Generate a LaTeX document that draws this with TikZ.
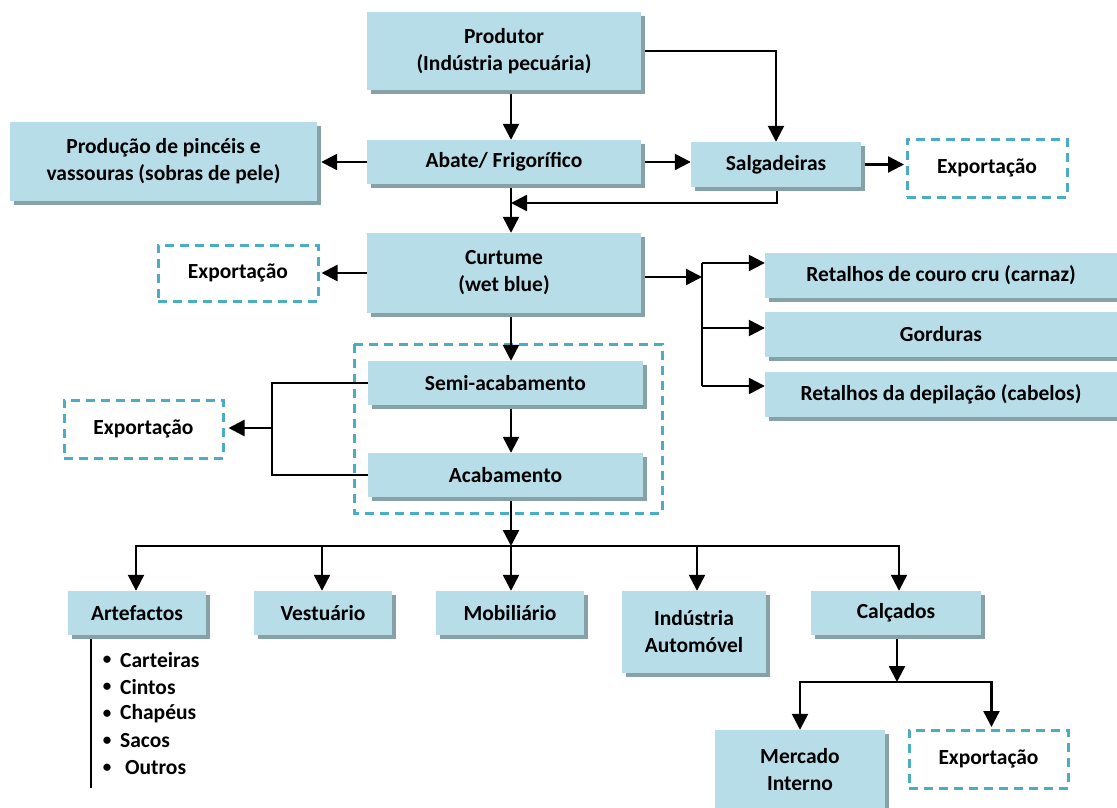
\documentclass[tikz,border=0pt]{standalone}
\usepackage{fontspec}
\setmainfont{Carlito}
\usetikzlibrary{arrows.meta,shadows}
\definecolor{boxfill}{HTML}{B7DDE8}
\definecolor{shadowcol}{HTML}{86A2A7}
\definecolor{dashcol}{HTML}{4BACC6}
\pgfdeclarelayer{bg}
\pgfsetlayers{bg,main}
\tikzset{
  lbl/.style={font=\fontsize{21.5}{27}\selectfont\bfseries, align=center},
  box/.style={lbl, fill=boxfill, inner sep=0pt,
    general shadow={fill=shadowcol, shadow xshift=4pt, shadow yshift=-4pt}},
  dbox/.style={lbl, draw=dashcol, line width=3pt, dash pattern=on 9pt off 6pt, fill=white, inner sep=0pt},
  grp/.style={draw=dashcol, line width=3pt, dash pattern=on 9pt off 6pt},
  conn/.style={line width=2.4pt, black},
  arr/.style={conn, -{Triangle[length=16pt,width=16pt]}},
  itm/.style={font=\fontsize{21.5}{27}\selectfont\bfseries, inner sep=0pt},
  bul/.style={font=\fontsize{17}{20}\selectfont\bfseries, inner sep=0pt},
}
\begin{document}
\begin{tikzpicture}[x=1pt,y=-1pt]
\useasboundingbox (0,0) rectangle (1117,808);

% boxes
\node[box, minimum width=274, minimum height=78] (prod) at (504,51) {Produtor\\(Indústria pecuária)};
\node[box, minimum width=274, minimum height=44] (abate) at (504,162) {Abate/ Frigorífico};
\node[box, minimum width=307, minimum height=79] (pinc) at (163.5,161.5) {Produção de pincéis e\\vassouras (sobras de pele)};
\node[box, minimum width=170, minimum height=45] (salg) at (776,164.5) {Salgadeiras};
\node[dbox, minimum width=160, minimum height=58] (exp1) at (987,168) {Exportação};
\node[box, minimum width=274, minimum height=80] (curt) at (504,273) {Curtume\\(wet blue)};
\node[dbox, minimum width=160, minimum height=56] (exp2) at (238,273) {Exportação};
\node[box, minimum width=352, minimum height=45] (ret1) at (941,275.5) {Retalhos de couro cru (carnaz)};
\node[box, minimum width=352, minimum height=45] (gord) at (941,334.5) {Gorduras};
\node[box, minimum width=352, minimum height=45] (ret2) at (941,394.5) {Retalhos da depilação (cabelos)};
\node[box, minimum width=275, minimum height=44] (semi) at (505.5,383) {Semi-acabamento};
\node[box, minimum width=275, minimum height=44] (acab) at (505.5,475) {Acabamento};
\node[dbox, minimum width=159, minimum height=58] (exp3) at (143.5,429) {Exportação};
\node[box, minimum width=138, minimum height=44] (art) at (137,613) {Artefactos};
\node[box, minimum width=138, minimum height=44] (vest) at (323,613) {Vestuário};
\node[box, minimum width=148, minimum height=44] (mob) at (510,613) {Mobiliário};
\node[box, minimum width=144, minimum height=82] (auto) at (694,632) {Indústria\\Automóvel};
\node[box, minimum width=170, minimum height=44] (calc) at (896,613) {Calçados};
\node[box, minimum width=170, minimum height=80] (merc) at (800,770) {Mercado\\Interno};
\node[dbox, minimum width=159, minimum height=58] (exp4) at (988.5,759) {Exportação};

% list under Artefactos
\foreach \n/\t/\yy in {i1/Carteiras/660, i2/Cintos/687, i3/Chapéus/714, i4/Sacos/741, i5/{\ Outros}/768}{
  \node[bul] (b\n) at (107,\yy) {•};
  \node[itm, anchor=west] (\n) at (120,\yy) {\t};
}

% helper coordinates
\coordinate (colx) at (511,0);
\coordinate (j1) at (511,203);
\coordinate (b1) at (702,277);
\coordinate (b2) at (702,263);
\coordinate (b3) at (702,328);
\coordinate (b4) at (702,386);
\coordinate (kx) at (272,0);
\coordinate (k2) at (272,428);
\coordinate (bus) at (511,546);
\coordinate (c1) at (897,682);
\coordinate (l1) at (91,788);

\begin{pgfonlayer}{bg}
\draw[grp] (354,344) rectangle (662,513);
\draw[arr] (colx |- prod.south) -- (colx |- abate.north);
\draw[arr] (prod.east) -| (salg.north);
\draw[arr] (abate.west) -- ([xshift=4pt]abate.west -| pinc.east);
\draw[arr] (abate.east) -- (abate.east -| salg.west);
\draw[arr] (salg.east) -- ([xshift=-1.5pt]salg.east -| exp1.west);
\draw[arr] ([xshift=1pt]salg.south) |- (j1);
\draw[arr] (colx |- abate.south) -- (colx |- curt.north);
\draw[arr] (curt.west) -- ([xshift=2pt]curt.west -| exp2.east);
\draw[arr] (curt.east |- b1) -- (b1);
\draw[conn] (b2) -- (b4);
\draw[arr] (b2) -- (b2 -| ret1.west);
\draw[arr] (b3) -- (b3 -| gord.west);
\draw[arr] (b4) -- (b4 -| ret2.west);
\draw[arr] (colx |- curt.south) -- (colx |- semi.north);
\draw[arr] (colx |- semi.south) -- (colx |- acab.north);
\draw[conn] (semi.west) -| (kx |- acab.west) -- (acab.west);
\draw[arr] (k2) -- ([xshift=4pt]k2 -| exp3.east);
\draw[arr] (colx |- acab.south) -- (bus);
\draw[arr] (bus) -| ([xshift=-1pt]art.north);
\draw[arr] (bus) -| ([xshift=-1pt]vest.north);
\draw[arr] (bus) -- (bus |- mob.north);
\draw[arr] (bus) -| ([xshift=3pt]auto.north);
\draw[arr] (bus) -| ([xshift=3pt]calc.north);
\draw[arr] (c1 |- calc.south) -- (c1);
\draw[arr] (c1) -| (merc.north);
\draw[arr] (c1) -| ([xshift=3pt,yshift=1.5pt]exp4.north);
\draw[conn] (l1 |- art.south) -- (l1);
\end{pgfonlayer}
\end{tikzpicture}
\end{document}
